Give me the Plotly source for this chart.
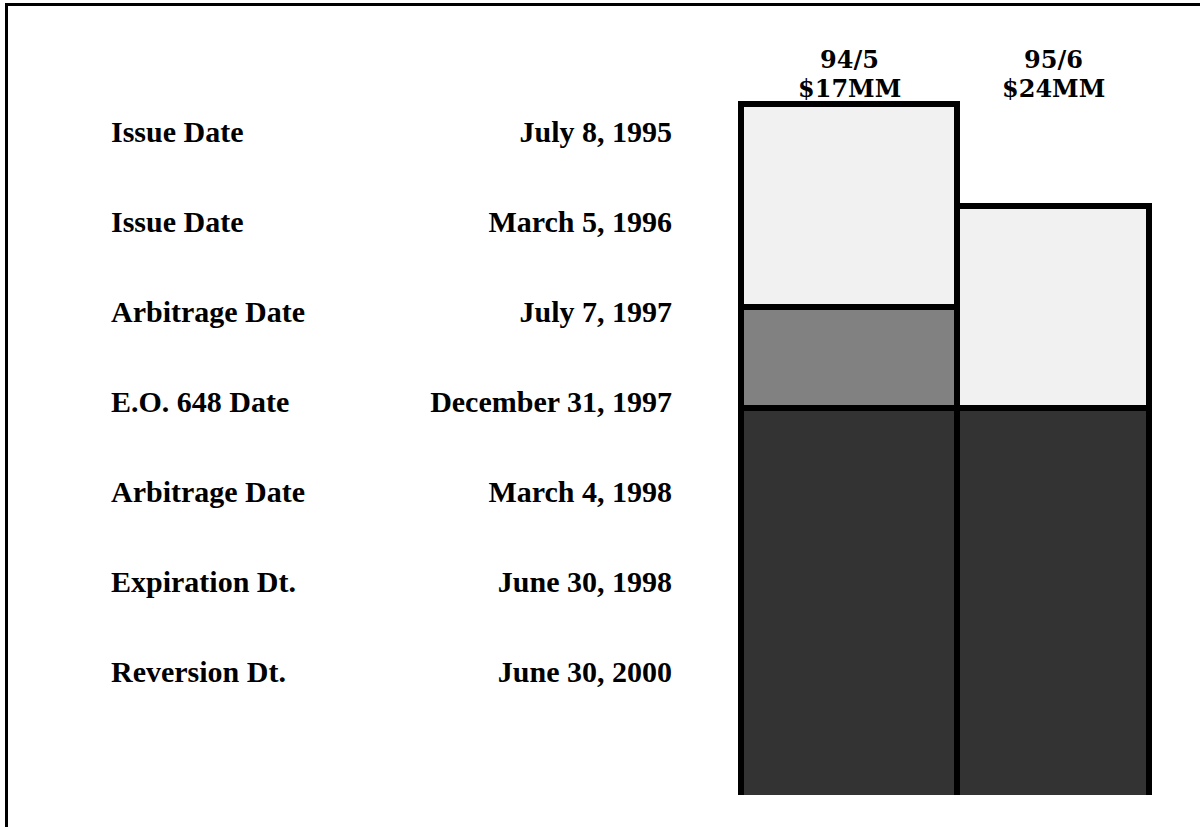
import plotly.graph_objects as go

# ---- data ----
event_labels = ["Issue Date", "Issue Date", "Arbitrage Date", "E.O. 648 Date",
                "Arbitrage Date", "Expiration Dt.", "Reversion Dt."]
event_dates = ["July 8, 1995", "March 5, 1996", "July 7, 1997", "December 31, 1997",
               "March 4, 1998", "June 30, 1998", "June 30, 2000"]
event_rows = [6.66, 5.76, 4.86, 3.96, 3.06, 2.16, 1.26]   # vertical position of each event row

column_years = ["94/5", "95/6"]
column_amounts = ["$17MM", "$24MM"]
col_x = [849, 1053]
col_width = [216, 192]

# stacked segment heights (bottom to top)
dark_seg = [3.92, 3.92]
mid_seg = [1.01, 0.0]
light_seg = [2.03, 2.02]

LINE = dict(color="black", width=6)
fig = go.Figure()

base_dark = [0.0, 0.0]
base_mid = [d for d in dark_seg]
base_light = [d + m for d, m in zip(dark_seg, mid_seg)]

fig.add_trace(go.Bar(x=col_x, y=dark_seg, base=base_dark, width=col_width,
                     marker=dict(color="#333333", line=LINE), hoverinfo="skip"))
fig.add_trace(go.Bar(x=col_x[:1], y=mid_seg[:1], base=base_mid[:1], width=col_width[:1],
                     marker=dict(color="#818181", line=LINE), hoverinfo="skip"))
fig.add_trace(go.Bar(x=col_x, y=light_seg, base=base_light, width=col_width,
                     marker=dict(color="#f1f1f1", line=LINE), hoverinfo="skip"))

body_font = dict(family="Liberation Serif", size=30, color="black", weight="bold")
fig.add_trace(go.Scatter(x=[111] * len(event_labels), y=event_rows, text=event_labels,
                         mode="text", textposition="middle right", textfont=body_font,
                         cliponaxis=False, hoverinfo="skip"))
fig.add_trace(go.Scatter(x=[672] * len(event_dates), y=event_rows, text=event_dates,
                         mode="text", textposition="middle left", textfont=body_font,
                         cliponaxis=False, hoverinfo="skip"))

head_font = dict(family="DejaVu Serif", size=24, color="black", weight="bold")
for cx, yr, amt in zip(col_x, column_years, column_amounts):
    fig.add_annotation(x=cx, y=6.95, xref="x", yref="y", text=amt, showarrow=False,
                       xanchor="center", yanchor="bottom", font=head_font)
    fig.add_annotation(x=cx, y=6.95, xref="x", yref="y", text=yr, showarrow=False,
                       xanchor="center", yanchor="bottom", yshift=29, font=head_font)

fig.add_shape(type="rect", xref="paper", yref="paper",
              x0=6.5 / 1200, x1=1.1, y0=-0.1, y1=1 - 4.5 / 827,
              line=dict(color="black", width=3), fillcolor="rgba(0,0,0,0)", layer="above")

fig.update_layout(
    width=1200, height=827, margin=dict(l=0, r=0, t=0, b=0),
    paper_bgcolor="white", plot_bgcolor="white", showlegend=False,
    barmode="overlay",
    xaxis=dict(range=[0, 1200], visible=False, fixedrange=True),
    yaxis=dict(range=[0.05, 8.0], domain=[32 / 827, 1], visible=False, fixedrange=True),
)

fig.write_html("out.html", config={"displayModeBar": False},
               post_script="document.body.style.margin='0px';document.body.style.overflow='hidden';")
